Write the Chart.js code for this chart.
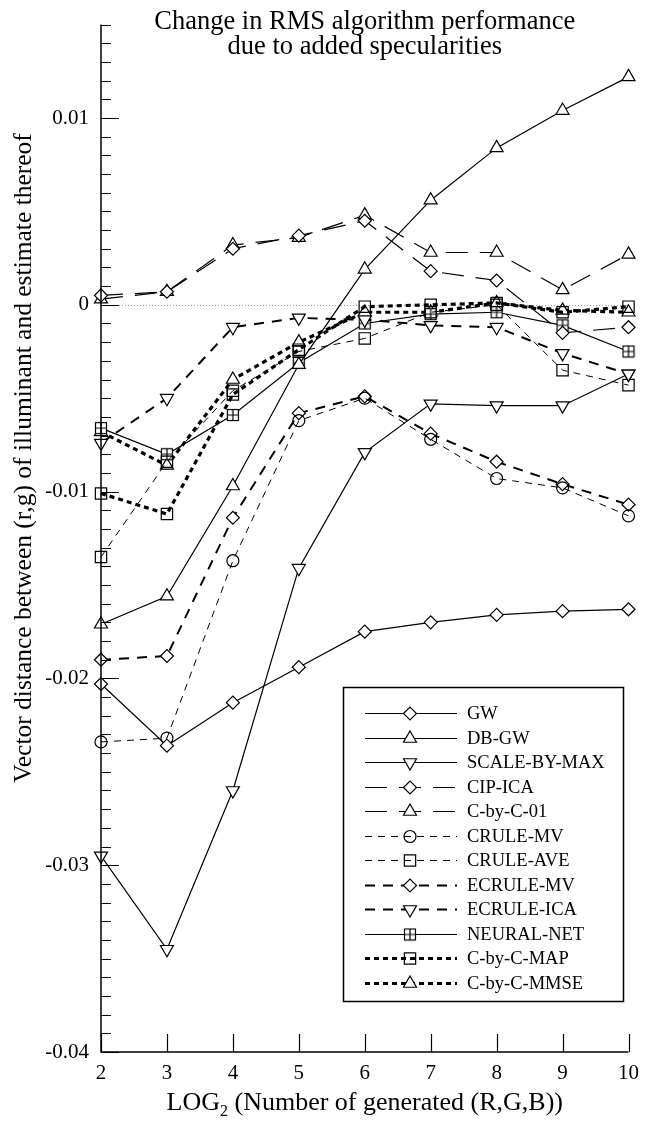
<!DOCTYPE html>
<html>
<head>
<meta charset="utf-8">
<script src="https://cdn.jsdelivr.net/npm/chart.js@4.4.0/dist/chart.umd.min.js"></script>
<style>
  html, body { margin: 0; padding: 0; background: #fff; }
  canvas { display: block; }
</style>
</head>
<body>
<canvas id="rmsChart" width="648" height="1125"></canvas>
<script>
// x = log2(number of generated RGB), y = change in RMS error
const xValues = [2, 3, 4, 5, 6, 7, 8, 9, 10];
const yTickValues = [-0.04, -0.03, -0.02, -0.01, 0, 0.01];

const gw         = [-0.0203, -0.0236, -0.0213, -0.0194, -0.0175, -0.0170, -0.0166, -0.0164, -0.0163];
const dbGw       = [-0.0171, -0.0156, -0.0097, -0.0032, 0.0019, 0.0056, 0.0084, 0.0104, 0.0122];
const scaleByMax = [-0.0295, -0.0345, -0.0260, -0.0141, -0.0079, -0.0053, -0.0054, -0.0054, -0.0037];
const cipIca     = [0.0005, 0.0007, 0.0030, 0.0037, 0.0045, 0.0018, 0.0013, -0.0015, -0.0012];
const cByC01     = [0.0003, 0.0007, 0.0032, 0.0036, 0.0048, 0.0028, 0.0028, 0.0008, 0.0027];
const cruleMv    = [-0.0234, -0.0232, -0.0137, -0.0062, -0.0050, -0.0072, -0.0093, -0.0098, -0.0113];
const cruleAve   = [-0.0135, -0.0084, -0.0046, -0.0025, -0.0018, -0.0004, 0.0000, -0.0035, -0.0043];
const ecruleMv   = [-0.0190, -0.0188, -0.0114, -0.0058, -0.0049, -0.0069, -0.0084, -0.0096, -0.0107];
const ecruleIca  = [-0.0074, -0.0050, -0.0012, -0.0007, -0.0008, -0.0011, -0.0012, -0.0026, -0.0037];
const neuralNet  = [-0.0066, -0.0080, -0.0059, -0.0031, -0.0010, -0.0005, -0.0004, -0.0011, -0.0025];
const cByCMap    = [-0.0101, -0.0112, -0.0048, -0.0024, -0.0001, 0.0000, 0.0001, -0.0004, -0.0001];
const cByCMmse   = [-0.0068, -0.0086, -0.0040, -0.0020, -0.0004, -0.0004, 0.0001, -0.0003, -0.0004];

const titleLines = ["Change in RMS algorithm performance", "due to added specularities"];
const xTitle = ["LOG", "2", " (Number of generated (R,G,B))"];
const yTitle = "Vector distance between (r,g) of illuminant and estimate thereof";

const serif = '"Liberation Serif", "DejaVu Serif", serif';

function squareMarker(cross) {
  const c = document.createElement("canvas");
  c.width = 14; c.height = 14;
  const g = c.getContext("2d");
  g.fillStyle = "#fff";
  g.fillRect(1.5, 1.5, 11, 11);
  g.strokeStyle = "#000";
  g.lineWidth = 1.2;
  g.strokeRect(1.5, 1.5, 11, 11);
  if (cross) {
    g.beginPath();
    g.moveTo(7, 1.5); g.lineTo(7, 12.5);
    g.moveTo(1.5, 7); g.lineTo(12.5, 7);
    g.stroke();
  }
  return c;
}

const solid = { borderWidth: 1.2, borderDash: [] };
const longDash = { borderWidth: 1.2, borderDash: [22, 12] };
const thinDash = { borderWidth: 1, borderDash: [7, 6] };
const medDash = { borderWidth: 2, borderDash: [10, 8] };
const dotted = { borderWidth: 3.2, borderDash: [5, 4] };

const diamond = { pointStyle: "rectRot", pointRadius: 6.5 };
const triUp = { pointStyle: "triangle", pointRadius: 7.5 };
const triDown = { pointStyle: "triangle", pointRadius: 7.5, pointRotation: 180 };
const circle = { pointStyle: "circle", pointRadius: 6, pointBackgroundColor: "rgba(0,0,0,0)" };
const square = { pointStyle: "rect", pointRadius: 8, pointBackgroundColor: "rgba(0,0,0,0)" };
const squarePlus = { pointStyle: squareMarker(true), pointRadius: 7 };

function series(label, values, line, marker) {
  return Object.assign({
    label: label,
    data: values.map((v, i) => ({ x: xValues[i], y: v })),
    borderColor: "#000",
    pointBorderColor: "#000",
    pointBackgroundColor: "#fff",
    pointBorderWidth: 1.2,
    pointRotation: 0,
    fill: false,
    tension: 0,
    clip: false
  }, line, marker);
}

const datasets = [
  series("GW", gw, solid, diamond),
  series("DB-GW", dbGw, solid, triUp),
  series("SCALE-BY-MAX", scaleByMax, solid, triDown),
  series("CIP-ICA", cipIca, longDash, diamond),
  series("C-by-C-01", cByC01, longDash, triUp),
  series("CRULE-MV", cruleMv, thinDash, circle),
  series("CRULE-AVE", cruleAve, thinDash, square),
  series("ECRULE-MV", ecruleMv, medDash, diamond),
  series("ECRULE-ICA", ecruleIca, medDash, triDown),
  series("NEURAL-NET", neuralNet, solid, squarePlus),
  series("C-by-C-MAP", cByCMap, dotted, square),
  series("C-by-C-MMSE", cByCMmse, dotted, triUp)
];

const decorations = {
  id: "decorations",
  beforeDatasetsDraw(chart) {
    const { ctx, chartArea: a, scales: { y } } = chart;
    ctx.save();
    ctx.strokeStyle = "#a0a0a0";
    ctx.lineWidth = 1;
    ctx.setLineDash([1, 2]);
    const y0 = Math.round(y.getPixelForValue(0)) + 0.5;
    ctx.beginPath();
    ctx.moveTo(a.left, y0);
    ctx.lineTo(a.right, y0);
    ctx.stroke();
    ctx.restore();
  },
  afterDraw(chart) {
    const { ctx, chartArea: a, scales: { x, y } } = chart;
    ctx.save();
    ctx.strokeStyle = "#000";
    ctx.fillStyle = "#000";
    ctx.lineWidth = 1.5;
    ctx.setLineDash([]);

    // axes
    ctx.beginPath();
    ctx.moveTo(a.left, a.top);
    ctx.lineTo(a.left, a.bottom);
    ctx.lineTo(a.right, a.bottom);
    ctx.stroke();

    // inward ticks
    ctx.lineWidth = 1.2;
    ctx.beginPath();
    for (let k = 0; k <= 55; k++) {
      const v = -0.04 + k * 0.001;
      const py = Math.round(y.getPixelForValue(v)) + 0.5;
      const len = k % 10 === 0 ? 18 : 10;
      ctx.moveTo(a.left, py);
      ctx.lineTo(a.left + len, py);
    }
    xValues.forEach(v => {
      const px = Math.round(x.getPixelForValue(v)) + 0.5;
      ctx.moveTo(px, a.bottom);
      ctx.lineTo(px, a.bottom - 18);
    });
    ctx.stroke();

    // title
    const cx = (a.left + a.right) / 2;
    ctx.font = "26.5px " + serif;
    ctx.textAlign = "center";
    ctx.textBaseline = "middle";
    ctx.fillText(titleLines[0], cx, 22);
    ctx.fillText(titleLines[1], cx, 47);

    // x axis title with subscript
    ctx.textAlign = "left";
    ctx.font = "26px " + serif;
    const w0 = ctx.measureText(xTitle[0]).width;
    const w2 = ctx.measureText(xTitle[2]).width;
    ctx.font = "16px " + serif;
    const w1 = ctx.measureText(xTitle[1]).width;
    const tx = cx - (w0 + w1 + w2) / 2;
    const ty = 1103;
    ctx.font = "26px " + serif;
    ctx.fillText(xTitle[0], tx, ty);
    ctx.font = "16px " + serif;
    ctx.fillText(xTitle[1], tx + w0, ty + 9);
    ctx.font = "26px " + serif;
    ctx.fillText(xTitle[2], tx + w0 + w1, ty);

    // y axis title
    ctx.save();
    ctx.translate(24, 458);
    ctx.rotate(-Math.PI / 2);
    ctx.textAlign = "center";
    ctx.font = "25.5px " + serif;
    ctx.fillText(yTitle, 0, 0);
    ctx.restore();

    // legend
    const box = { left: 343, top: 687, right: 623, bottom: 1001 };
    ctx.fillStyle = "#fff";
    ctx.fillRect(box.left, box.top, box.right - box.left, box.bottom - box.top);
    ctx.strokeStyle = "#000";
    ctx.lineWidth = 1.5;
    ctx.strokeRect(box.left + 0.5, box.top + 0.5, box.right - box.left, box.bottom - box.top);
    ctx.font = "18.5px " + serif;
    ctx.textAlign = "left";
    ctx.textBaseline = "middle";
    chart.data.datasets.forEach((ds, i) => {
      const ry = Math.round(713 + i * 24.5) + 0.5;
      ctx.strokeStyle = "#000";
      ctx.lineWidth = ds.borderWidth;
      ctx.setLineDash(ds.borderDash);
      ctx.beginPath();
      ctx.moveTo(365, ry);
      ctx.lineTo(457, ry);
      ctx.stroke();
      ctx.setLineDash([]);
      ctx.lineWidth = ds.pointBorderWidth;
      ctx.fillStyle = ds.pointBackgroundColor;
      Chart.helpers.drawPoint(ctx, {
        pointStyle: ds.pointStyle,
        rotation: ds.pointRotation,
        radius: ds.pointRadius,
        borderWidth: ds.pointBorderWidth
      }, 410, ry);
      ctx.fillStyle = "#000";
      ctx.fillText(ds.label, 467, ry + 1);
    });
    ctx.restore();
  }
};

new Chart(document.getElementById("rmsChart").getContext("2d"), {
  type: "line",
  data: { datasets: datasets },
  options: {
    responsive: false,
    devicePixelRatio: 1,
    animation: false,
    layout: { padding: { top: 16, right: 12, left: 0, bottom: 0 } },
    plugins: { legend: { display: false }, tooltip: { enabled: false } },
    scales: {
      x: {
        type: "linear",
        min: 2,
        max: 10,
        grid: { display: false, drawTicks: false },
        border: { display: false },
        afterBuildTicks: s => { s.ticks = xValues.map(v => ({ value: v })); },
        afterFit: s => { s.height = 73; },
        ticks: { font: { family: serif, size: 21 }, color: "#000", padding: 9, autoSkip: false, maxRotation: 0 }
      },
      y: {
        type: "linear",
        min: -0.04,
        max: 0.015,
        grid: { display: false, drawTicks: false },
        border: { display: false },
        afterBuildTicks: s => { s.ticks = yTickValues.map(v => ({ value: v })); },
        afterFit: s => { s.width = 101; },
        ticks: {
          font: { family: serif, size: 21 },
          color: "#000",
          padding: 12,
          callback: v => String(Math.round(v * 100) / 100)
        }
      }
    }
  },
  plugins: [decorations]
});
</script>
</body>
</html>
